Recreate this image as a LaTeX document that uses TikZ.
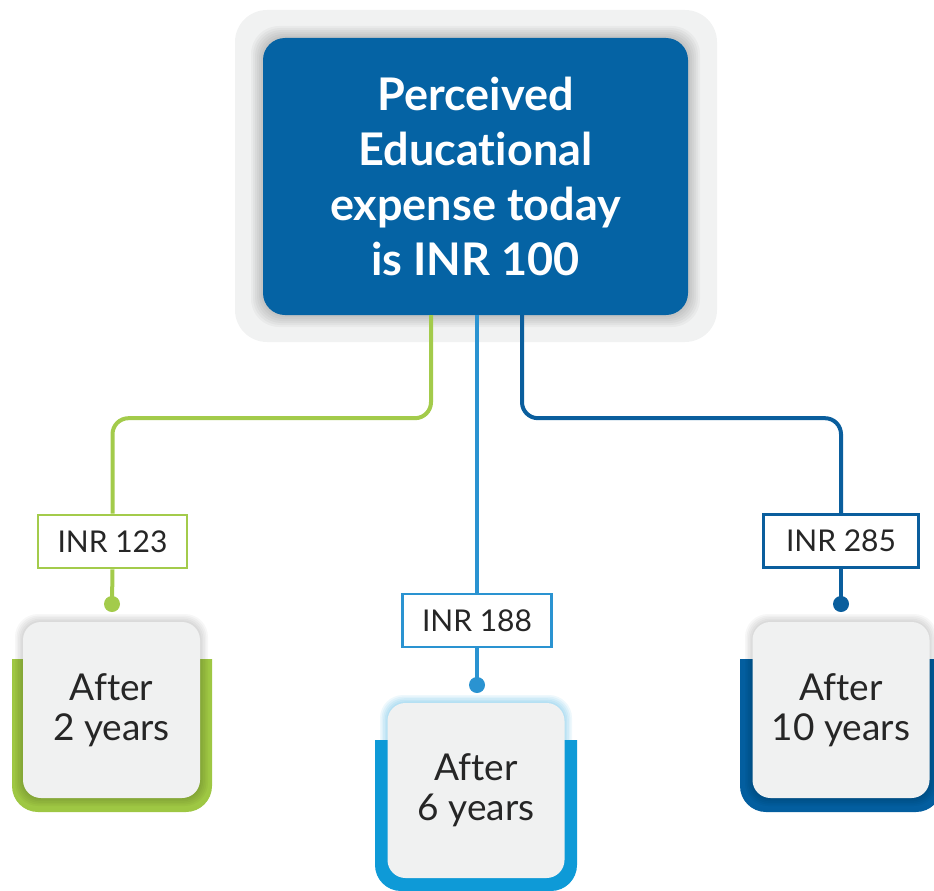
\documentclass[tikz,border=0pt]{standalone}
\usepackage{fontspec}
\setmainfont{Lato}[Ligatures=NoCommon]
\definecolor{topblue}{HTML}{0563A4}
\definecolor{outergray}{HTML}{F1F2F2}
\definecolor{cardgray}{HTML}{F0F1F1}
\definecolor{txt}{HTML}{262626}
\definecolor{gline}{HTML}{A3CB4B}
\definecolor{gband}{HTML}{9EC743}
\definecolor{lline}{HTML}{2A93D1}
\definecolor{lband}{HTML}{0E9AD7}
\definecolor{dline}{HTML}{0A5E9D}
\definecolor{dband}{HTML}{035E9F}
\begin{document}
\begin{tikzpicture}[x=1pt,y=-1pt,
  conn/.style={line width=4pt},
  lab/.style={draw, line width=2.6pt, fill=white, minimum height=53pt, inner sep=0pt,
    font=\fontsize{30}{36}\selectfont, text=txt},
  dotn/.style={circle, fill, inner sep=0pt, minimum size=16pt},
  card/.style={rounded corners=18pt, fill=cardgray, minimum width=177pt, minimum height=176pt,
    inner sep=0pt, align=center, text=txt, font=\fontsize{37}{40}\selectfont},
]
\useasboundingbox (0,0) rectangle (934,891);
% top box
\fill[outergray, rounded corners=32pt] (235,10) rectangle (717,342);
\foreach \k in {1,...,6}{
  \fill[black, opacity=0.03, rounded corners=22pt+\k pt] (263-\k*2,38-\k*2) rectangle (688+\k*2,315+\k*2);
}
\node[fill=topblue, rounded corners=22pt, minimum width=425pt, minimum height=277pt, inner sep=0pt,
  text=white, align=center, font=\bfseries\fontsize{45}{55}\selectfont] (top) at (475.5,176.5)
  {Perceived\\Educational\\expense today\\is INR 100};
% labels
\node[lab, draw=gline, minimum width=149pt] (l1) at (112.5,541.5) {INR 123};
\node[lab, draw=lline, minimum width=149pt] (l2) at (477,620.5) {INR 188};
\node[lab, draw=dline, minimum width=155pt] (l3) at (841,541) {INR 285};
% dots
\node[dotn, fill=gline] (d1) at (112,604) {};
\node[dotn, fill=lline] (d2) at (477,685) {};
\node[dotn, fill=dline] (d3) at (841,604) {};
% connectors
\draw[conn, gline, rounded corners=16pt] ([xshift=-44.5pt]top.south) -- ++(0,103) -| (l1.north);
\draw[conn, lline] (top.south -| l2.north) -- (l2.north);
\draw[conn, dline, rounded corners=16pt] ([xshift=46.5pt]top.south) -- ++(0,103) -| (l3.north);
\draw[conn, gline] (l1.south) -- (d1.center);
\draw[conn, lline] (l2.south) -- (d2.center);
\draw[conn, dline] (l3.south) -- (d3.center);
% bands
\fill[gband] (12,659) [rounded corners=26pt] -- (12,812) -- (212,812) [sharp corners] -- (212,659) -- cycle;
\fill[lband] (375,740) [rounded corners=26pt] -- (375,891) -- (577,891) [sharp corners] -- (577,740) -- cycle;
\fill[dband] (740,659) [rounded corners=26pt] -- (740,812) -- (942,812) [sharp corners] -- (942,659) -- cycle;
% card glows
\foreach \k in {1,...,5}{
  \fill[black, opacity=0.03, rounded corners=18pt+\k pt] (23-\k*1.6,622-\k*1.6) rectangle (200+\k*1.6,798+\k*1.6);
  \fill[lband, opacity=0.07, rounded corners=18pt+\k pt] (388-\k*1.6,703-\k*1.6) rectangle (564+\k*1.6,878+\k*1.6);
  \fill[black, opacity=0.03, rounded corners=18pt+\k pt] (753-\k*1.6,622-\k*1.6) rectangle (929+\k*1.6,798+\k*1.6);
}
% cards
\node[card] (b1) at (111.5,710) {After\\2 years};
\node[card, minimum height=175pt] (b2) at (476,790.5) {After\\6 years};
\node[card] (b3) at (841,710) {After\\10 years};
\end{tikzpicture}
\end{document}
